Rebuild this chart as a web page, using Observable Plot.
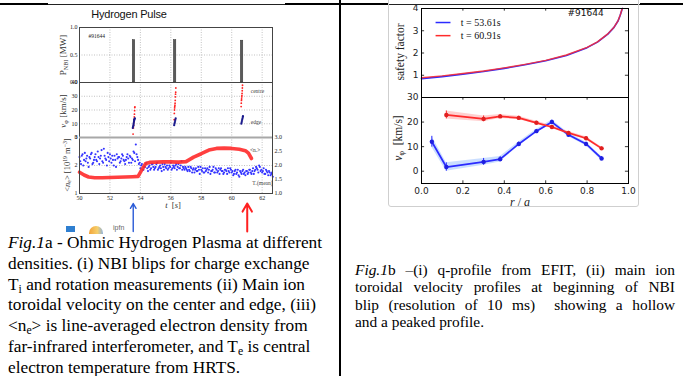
<!DOCTYPE html>
<html><head><meta charset="utf-8">
<script src="https://cdn.jsdelivr.net/npm/d3@7"></script>
<script src="https://cdn.jsdelivr.net/npm/@observablehq/plot@0.6"></script>
<style>
html,body{margin:0;padding:0;background:#fff;}
#page{position:relative;width:683px;height:376px;overflow:hidden;background:#fff;}
.abs{position:absolute;}
.rot{position:absolute;transform:translate(-50%,-50%) rotate(-90deg);white-space:nowrap;}
sub{font-size:0.68em;vertical-align:-0.25em;line-height:0;}
sup{font-size:0.68em;vertical-align:0.45em;line-height:0;}
</style></head><body><div id="page"></div>
<script>
// ---------- DATA (left figure, shot #91644) ----------
const tTicks = [50, 52, 54, 56, 58, 60, 62];
const nbiT = [53.58, 56.28, 60.68];
const nbiP = [0.77, 0.77, 0.76];
const centreT = [53.52,53.54,53.56,53.57,53.58,53.60,53.61,53.62,53.63,53.64,
                 56.22,56.23,56.24,56.25,56.26,56.27,56.28,56.29,56.30,56.31,56.32,56.33,
                 60.62,60.63,60.64,60.65,60.66,60.67,60.68,60.69,60.70,60.71];
const centreV = [2.5,7,9,11,13,15,17,19.5,21.8,22.3,
                 13,17.5,20,21.5,22.5,23.5,25,27,29.5,31.5,33,36,
                 22.5,25,27,28,29.5,30.5,32,34,36,38];
const edgeT = [53.50,53.52,53.54,53.55,53.56,53.58,53.59,53.60,53.62,53.64,
               56.22,56.24,56.26,56.28,56.30,56.32,
               60.63,60.65,60.67,60.69,60.71,60.73,60.74];
const edgeV = [7,8,8.5,9.5,10.5,11.5,12.5,13,13.5,14,
               9,10,11,12,13,14,
               10,11,12,13,14,15,15.5];
const neT = [50.0,50.3,50.6,51.0,51.5,52.0,52.5,53.0,53.5,53.85,54.1,54.35,54.6,55.0,55.5,56.0,56.5,57.0,57.5,58.0,58.5,59.0,59.5,60.0,60.5,60.9,61.1,61.3];
const neV = [1.76,1.66,1.59,1.56,1.56,1.57,1.58,1.59,1.60,1.61,1.85,2.07,2.11,2.12,2.13,2.13,2.12,2.14,2.30,2.42,2.55,2.61,2.62,2.61,2.58,2.53,2.44,2.25];
const teT0 = 50, teStep = 0.1;           // samples at 50.0, 50.1, ...
const teV = [
2.30,2.05,2.40,2.20,2.15,2.35,1.95,2.25,2.45,2.10,
2.30,2.20,2.50,2.05,2.35,2.15,2.60,2.25,2.00,2.30,
2.40,2.10,2.20,2.35,1.95,2.25,2.30,2.15,2.40,2.20,
2.05,2.30,2.25,2.35,2.10,2.20,2.45,2.75,2.30,2.05,
1.90,2.05,1.85,1.95,2.10,1.80,2.00,1.90,2.05,1.85,
1.95,2.10,1.90,2.00,1.80,1.95,2.05,1.90,1.85,2.00,
2.10,1.90,1.95,2.00,1.85,2.05,1.90,2.15,1.95,1.85,
1.90,1.80,1.85,1.95,1.75,1.90,1.85,1.80,1.95,1.70,
1.85,1.90,1.75,1.80,1.90,1.85,1.70,1.80,1.95,1.75,
1.85,1.80,1.70,1.90,1.80,1.75,1.85,1.70,1.80,1.90,
1.75,1.65,1.80,1.70,1.85,1.60,1.75,1.80,1.70,1.65,
1.80,1.75,1.85,1.70,1.90,1.80,1.95,1.85,2.00,1.80,
1.75,1.90,1.70,1.80,1.65,1.75,1.70,1.60];
const teT0b = 50.05;                      // second interleaved set: 50.05, 50.15, ...
const teV2 = [
2.15,2.35,2.00,2.45,2.25,2.10,2.30,2.40,2.05,2.20,
2.40,2.15,2.30,2.25,2.55,2.10,2.35,2.20,2.45,2.15,
2.25,2.35,2.00,2.20,2.40,2.30,2.10,2.25,2.35,2.15,
2.20,2.40,2.10,2.30,2.25,2.50,2.15,2.40,2.20,2.10,
2.00,1.85,1.95,2.05,1.90,1.95,1.85,2.05,1.95,1.90,
2.05,1.85,1.95,1.90,2.05,1.85,1.95,2.00,1.90,1.95,
1.85,2.00,1.90,2.05,1.95,1.90,2.00,1.85,1.90,1.95,
1.85,1.95,1.80,1.90,1.85,1.75,1.90,1.80,1.85,1.95,
1.80,1.75,1.90,1.85,1.75,1.95,1.80,1.85,1.75,1.90,
1.75,1.90,1.85,1.80,1.70,1.85,1.80,1.90,1.75,1.85,
1.80,1.70,1.85,1.75,1.65,1.80,1.70,1.85,1.75,1.80,
1.70,1.85,1.75,1.80,1.70,1.85,1.90,1.75,1.95,1.85,
1.80,1.70,1.85,1.75,1.80,1.65,1.75];
const arrowT = [53.53, 61.02];

// ---------- DATA (right figure) ----------
const rTicks = [0, 0.2, 0.4, 0.6, 0.8, 1.0];
const qR    = [0.00,0.10,0.20,0.30,0.40,0.50,0.60,0.70,0.80,0.85,0.90,0.93,0.95,0.96,0.97];
const qBlue = [0.85,0.94,1.05,1.17,1.31,1.47,1.65,1.89,2.24,2.49,2.85,3.15,3.45,3.70,4.00];
const qRed  = [0.89,0.97,1.08,1.19,1.33,1.49,1.67,1.91,2.25,2.50,2.86,3.16,3.46,3.71,4.00];
const rB = [0.05,0.12,0.30,0.38,0.47,0.555,0.63,0.71,0.795,0.87];
const vB = [12.0,1.7,3.8,4.9,11.1,16.3,20.0,14.8,11.1,5.2];
const eB = [2.2,1.7,1.4,1.1,0.8,0.7,0.8,0.8,0.7,0.8];
const rR = [0.12,0.30,0.38,0.47,0.555,0.63,0.71,0.795,0.87];
const vR = [22.9,21.3,22.3,21.7,19.7,18.0,15.6,13.4,9.3];
const eR = [1.6,1.2,0.8,0.7,0.6,0.6,0.6,0.6,0.6];

// ---------- helpers ----------
const page = document.getElementById("page");
const zip = (xs, ys, es) => xs.map((x, i) => ({x, y: ys[i], e: es ? es[i] : 0}));
function put(el, left, top) {
  el.style.position = "absolute"; el.style.left = left + "px"; el.style.top = top + "px";
  page.appendChild(el); return el;
}
function html(s, left, top, css) {
  const d = document.createElement("div"); d.innerHTML = s;
  d.style.cssText = "position:absolute;white-space:nowrap;left:" + left + "px;top:" + top + "px;" + (css || "");
  page.appendChild(d); return d;
}
function rot(s, cx, cy, css) {
  const d = document.createElement("div"); d.className = "rot"; d.innerHTML = s;
  d.style.left = cx + "px"; d.style.top = cy + "px"; d.style.cssText += css || "";
  page.appendChild(d); return d;
}
const serif = "Liberation Serif, DejaVu Serif, serif";
const sans = "DejaVu Sans, Liberation Sans, sans-serif";
const sty = (f, s) => ({fontFamily: f, fontSize: s, background: "transparent", overflow: "visible", color: "#222"});
const grid = {stroke: "#777", strokeOpacity: 0.75, strokeDasharray: "1,1.5", strokeWidth: 0.6};
const tDom = [50, 62.68];

// ---------- page furniture ----------
function bar(l, t, w, h, c) { html("", l, t, `width:${w}px;height:${h}px;background:${c};`); }
bar(0, 3, 48, 2, "#000"); bar(48, 4, 237, 1, "#222"); bar(285, 3, 103, 2, "#000");
bar(388, 4, 252, 1, "#222"); bar(640, 3, 43, 2, "#000");
bar(339, 0, 2, 376, "#000");
html("", 388, -3, "width:251px;height:210px;border:1px solid #cfcfcf;border-radius:3px;box-sizing:border-box;");

// title
html("Hydrogen Pulse", 129, 8, "transform:translateX(-50%);font-family:'Liberation Sans',sans-serif;font-size:11px;letter-spacing:-0.2px;color:#111;");

// ---------- left figure ----------
const LW = 193, LML = 30, LMR = 30;
const pTop = Plot.plot({
  width: LML + LW + LMR, height: 65, marginLeft: LML, marginRight: LMR, marginTop: 6, marginBottom: 4,
  style: sty(serif, "6px"),
  x: {domain: tDom, axis: null}, y: {domain: [0, 1]},
  marks: [
    Plot.gridX(tTicks.slice(1), grid),
    Plot.gridY([0.5], grid),
    Plot.rectY(zip(nbiT, nbiP), {x1: d => d.x - 0.08, x2: d => d.x + 0.08, y: "y", fill: "#5a5a5a", stroke: "#333", strokeWidth: 0.5}),
    Plot.frame({stroke: "#444"}),
    Plot.axisY([0, 0.5, 1], {tickFormat: d3.format(".1f"), tickSize: 0, tickPadding: 2, label: null}),
    Plot.text(["#91644"], {frameAnchor: "top-left", dx: 9, dy: 7, textAnchor: "start", fontSize: 5.5})
  ]
});
put(pTop, 79 - LML, 27 - 6);

const pMid = Plot.plot({
  width: LML + LW + LMR, height: 65, marginLeft: LML, marginRight: LMR, marginTop: 6, marginBottom: 4,
  style: sty(serif, "6px"),
  x: {domain: tDom, axis: null}, y: {domain: [0, 40]},
  marks: [
    Plot.gridX(tTicks.slice(1), grid),
    Plot.gridY([10, 20, 30], grid),
    Plot.dot(zip(centreT, centreV), {x: "x", y: "y", r: 0.9, fill: "#ff2020", stroke: "none"}),
    Plot.dot(zip(edgeT, edgeV), {x: "x", y: "y", r: 1.1, fill: "#1a1a8c", stroke: "none"}),
    Plot.text([{t: 61.25, v: 33.5, s: "centre"}, {t: 61.25, v: 11, s: "edge"}], {x: "t", y: "v", text: "s", textAnchor: "start", fontSize: 5.5, fill: "#444"}),
    Plot.frame({stroke: "#444"}),
    Plot.axisY([0, 10, 20, 30, 40], {tickSize: 0, tickPadding: 2, label: null})
  ]
});
put(pMid, 79 - LML, 82 - 6);

const teData = teV.map((v, i) => ({x: teT0 + i * teStep, y: v}))
  .concat(teV2.map((v, i) => ({x: teT0b + i * teStep, y: v})));
const pBot = Plot.plot({
  width: LML + LW + LMR, height: 6 + 56 + 16, marginLeft: LML, marginRight: LMR, marginTop: 6, marginBottom: 16,
  style: sty(serif, "6px"),
  x: {domain: tDom}, y: {domain: [1, 3]},
  marks: [
    Plot.gridX(tTicks.slice(1), grid),
    Plot.gridY([2], grid),
    Plot.dot(teData, {x: "x", y: "y", r: 1.05, fill: "#3333ff", stroke: "none"}),
    Plot.line(zip(neT, neV), {x: "x", y: "y", stroke: "#ff2a2a", strokeWidth: 3.6, strokeOpacity: 0.9}),
    Plot.text([{t: 61.2, v: 2.54, s: "<nₑ>"}, {t: 61.35, v: 1.36, s: "Tₑ(mean)"}], {x: "t", y: "v", text: "s", textAnchor: "start", fontSize: 5.5, fill: "#444"}),
    Plot.frame({stroke: "#444"}),
    Plot.ruleY([3], {stroke: "#a8a8a8", strokeWidth: 2}),
    Plot.axisY([1, 2, 3], {tickSize: 0, tickPadding: 2, label: null}),
    Plot.axisY([1, 1.5, 2, 2.5, 3], {anchor: "right", tickFormat: d3.format(".1f"), tickSize: 0, tickPadding: 2, label: null}),
    Plot.axisX(tTicks, {tickSize: 0, tickPadding: 2, label: null})
  ]
});
put(pBot, 79 - LML, 137 - 6);

// arrows below the time axis, pointing at the NBI blips
const pArr = Plot.plot({
  width: LML + LW + LMR, height: 30, marginLeft: LML, marginRight: LMR, marginTop: 2, marginBottom: 0,
  style: sty(serif, "6px"),
  x: {domain: tDom, axis: null}, y: {domain: [0, 1], axis: null},
  marks: [
    Plot.arrow([arrowT[0]], {x1: d => d, x2: d => d, y1: () => 0, y2: () => 1, stroke: "#2a5bd7", strokeWidth: 1.4, headLength: 6}),
    Plot.arrow([arrowT[1]], {x1: d => d, x2: d => d, y1: () => 0, y2: () => 1, stroke: "#ff2020", strokeWidth: 2, headLength: 7})
  ]
});
put(pArr, 79 - LML, 201);

// left axis labels
rot("P<sub>NBI</sub> [MW]", 63, 55, "font-family:" + serif + ";font-size:9px;color:#333;");
rot("<i>v</i><sub>φ</sub> [km/s]", 63, 111, "font-family:" + serif + ";font-size:9px;color:#333;");
rot("&lt;<i>n</i><sub>e</sub>&gt; [10<sup>19</sup> m<sup>−3</sup>]", 67, 165, "font-family:" + serif + ";font-size:8.5px;color:#333;");
html("<i>t</i>&nbsp; [<i>s</i>]", 173, 200, "transform:translateX(-50%);font-family:" + serif + ";font-size:8.5px;color:#333;");

// logos strip
html("", 66, 226, "width:9px;height:6px;background:#2f7fd0;");
html("", 89, 226, "width:14px;height:8px;border-radius:7px 7px 0 0;background:linear-gradient(90deg,#f2a33a,#f6cf6a 60%,#8fb3de);");
html("ipfn", 113, 224, "font-family:'Liberation Sans',sans-serif;font-size:7px;color:#666;");

// ---------- right figure ----------
const RW = 207, RML = 30, RMR = 12;
const qTop = Plot.plot({
  width: RML + RW + RMR, height: 8 + 89, marginLeft: RML, marginRight: RMR, marginTop: 8, marginBottom: 0,
  style: sty(sans, "9px"),
  x: {domain: [0, 1], axis: null}, y: {domain: [0, 4]},
  marks: [
    Plot.line(zip(qR, qBlue), {x: "x", y: "y", stroke: "#2b2bff", strokeWidth: 1.6}),
    Plot.line(zip(qR, qRed), {x: "x", y: "y", stroke: "#ff2b2b", strokeWidth: 1.4, strokeOpacity: 0.85}),
    Plot.link([{x1: 0.068, x2: 0.14, y: 3.37}], {x1: "x1", x2: "x2", y1: "y", y2: "y", stroke: "#2b2bff", strokeWidth: 1.5}),
    Plot.link([{x1: 0.068, x2: 0.14, y: 2.78}], {x1: "x1", x2: "x2", y1: "y", y2: "y", stroke: "#ff2b2b", strokeWidth: 1.5}),
    Plot.text([{x: 0.19, y: 3.37, s: "t = 53.61s"}, {x: 0.19, y: 2.78, s: "t = 60.91s"}], {x: "x", y: "y", text: "s", textAnchor: "start", fontFamily: serif, fontSize: 10, fill: "#111"}),
    Plot.text([{x: 0.705, y: 3.78, s: "#91644"}], {x: "x", y: "y", text: "s", textAnchor: "start", fontSize: 9, fill: "#111"}),
    Plot.ruleX([0.2, 0.4, 0.6, 0.8], {y1: () => 4, y2: () => 3.88, stroke: "#000", strokeWidth: 0.8}),
    Plot.ruleY([1, 2, 3], {x1: () => 0, x2: () => 0.015, stroke: "#000", strokeWidth: 0.8}),
    Plot.ruleY([1, 2, 3], {x1: () => 0.985, x2: () => 1, stroke: "#000", strokeWidth: 0.8}),
    Plot.frame({stroke: "#000"}),
    Plot.axisY([1, 2, 3, 4], {tickSize: 0, tickPadding: 3, label: null})
  ]
});
put(qTop, 421 - RML, 0);

const vBot = Plot.plot({
  width: RML + RW + RMR, height: 2 + 86 + 24, marginLeft: RML, marginRight: RMR, marginTop: 2, marginBottom: 24,
  style: sty(sans, "9px"),
  x: {domain: [0, 1]}, y: {domain: [-5, 30]},
  marks: [
    Plot.areaY(zip(rB, vB, eB), {x: "x", y1: d => d.y - d.e, y2: d => d.y + d.e, fill: "#9fc2ff", fillOpacity: 0.55}),
    Plot.areaY(zip(rR, vR, eR), {x: "x", y1: d => d.y - d.e, y2: d => d.y + d.e, fill: "#ffaaaa", fillOpacity: 0.55}),
    Plot.ruleX(zip(rB, vB, eB), {x: "x", y1: d => d.y - d.e, y2: d => d.y + d.e, stroke: "#2b2bff", strokeWidth: 1}),
    Plot.ruleX(zip(rR, vR, eR), {x: "x", y1: d => d.y - d.e, y2: d => d.y + d.e, stroke: "#ff2b2b", strokeWidth: 1}),
    Plot.line(zip(rB, vB), {x: "x", y: "y", stroke: "#2b2bff", strokeWidth: 1.7}),
    Plot.line(zip(rR, vR), {x: "x", y: "y", stroke: "#ff2b2b", strokeWidth: 1.7}),
    Plot.dot(zip(rB, vB), {x: "x", y: "y", r: 2.2, fill: "#1f1fe0", stroke: "none"}),
    Plot.dot(zip(rR, vR), {x: "x", y: "y", r: 2.2, fill: "#e01f1f", stroke: "none"}),
    Plot.ruleX([0.2, 0.4, 0.6, 0.8], {y1: () => -5, y2: () => -3.9, stroke: "#000", strokeWidth: 0.8}),
    Plot.ruleX([0.2, 0.4, 0.6, 0.8], {y1: () => 30, y2: () => 28.9, stroke: "#000", strokeWidth: 0.8}),
    Plot.ruleY([0, 10, 20], {x1: () => 0, x2: () => 0.015, stroke: "#000", strokeWidth: 0.8}),
    Plot.ruleY([0, 10, 20], {x1: () => 0.985, x2: () => 1, stroke: "#000", strokeWidth: 0.8}),
    Plot.frame({stroke: "#000"}),
    Plot.axisY([0, 10, 20, 30], {tickSize: 0, tickPadding: 3, label: null}),
    Plot.axisX(rTicks, {tickFormat: d3.format(".1f"), tickSize: 0, tickPadding: 4, label: null})
  ]
});
put(vBot, 421 - RML, 95);

rot("safety factor", 400, 52, "font-family:" + serif + ";font-size:11.5px;color:#222;");
rot("<i>v</i><sub>φ</sub>&nbsp; [km/s]", 398, 138, "font-family:" + serif + ";font-size:11.5px;color:#222;");
html("<i>r</i> / <i>a</i>", 520, 195, "transform:translateX(-50%);font-family:" + serif + ";font-size:12px;color:#222;");

// ---------- captions ----------
const capL = [
  "<i>Fig.1</i>a - Ohmic Hydrogen Plasma at different",
  "densities. (i) NBI blips for charge exchange",
  "T<sub>i</sub> and rotation measurements (ii) Main ion",
  "toroidal velocity on the center and edge, (iii)",
  "&lt;n<sub>e</sub>&gt; is line-averaged electron density from",
  "far-infrared interferometer, and T<sub>e</sub> is central",
  "electron temperature from HRTS."
];
capL.forEach((s, i) => {
  html(s, 8, 233 + i * 20.8, "font-family:'Liberation Serif',serif;font-size:17.3px;line-height:20.8px;color:#000;");
});
const capR = [
  "<i>Fig.1</i>b –(i) q-profile from EFIT, (ii) main ion",
  "toroidal velocity profiles at beginning of NBI",
  "blip (resolution of 10 ms)&nbsp; showing a hollow",
  "and a peaked profile."
];
capR.forEach((s, i) => {
  const just = i < 3 ? "text-align:justify;text-align-last:justify;width:320px;white-space:normal;" : "";
  html(s, 355, 260.5 + i * 17.6, "font-family:'Liberation Serif',serif;font-size:15.4px;line-height:17.6px;color:#000;" + just);
});
</script></body></html>
